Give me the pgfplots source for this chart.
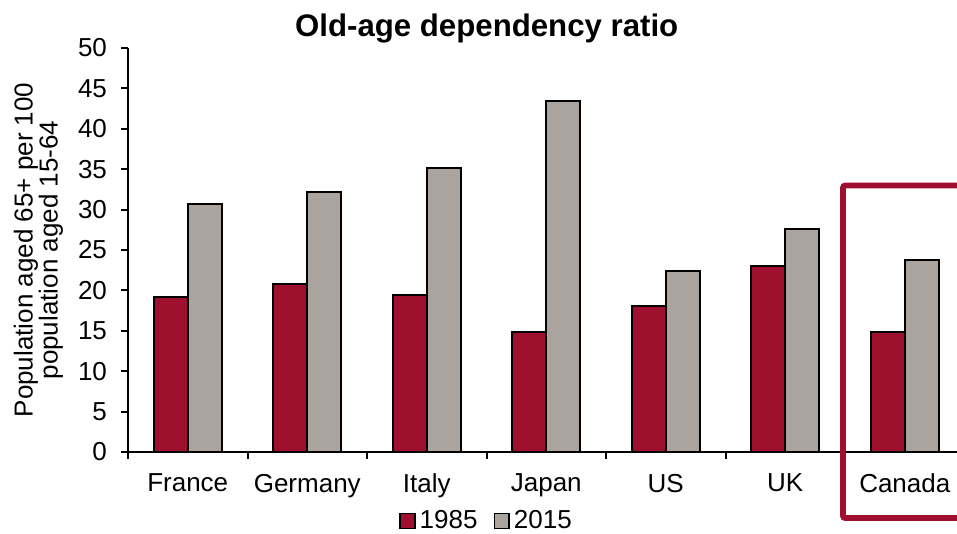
\documentclass[border=0pt]{standalone}
\usepackage{pgfplots}
\pgfplotsset{compat=1.18}
\usepackage{fontspec}
\setmainfont{Liberation Sans}
\definecolor{cred}{RGB}{158,16,46}
\definecolor{cgray}{RGB}{171,163,157}
\begin{document}
\begin{tikzpicture}
\begin{axis}[name=ax, scale only axis, width=414.5pt, height=202pt,
  xmin=-0.5, xmax=6.437, ymin=0, ymax=50,
  clip=false,
  axis x line*=bottom, axis y line*=left,
  axis line style={line width=1pt, -},
  ytick={0,5,...,50},
  xtick={0,...,6},
  xticklabels={France,Germany,Italy,Japan,US,UK,Canada},
  minor xtick={-0.5,0.5,...,5.5},
  tick align=outside,
  major tick length=3.5pt, minor tick length=3.5pt,
  major x tick style={draw=none},
  minor x tick style={black, line width=1pt},
  ytick style={black, line width=1pt},
  /pgf/number format/assume math mode=true,
  yticklabel style={font=\fontsize{13}{13}\selectfont, xshift=-3.5pt},
  xticklabel style={font=\fontsize{13}{13}\selectfont, yshift=-4pt},
  ylabel={Population aged 65+ per 100\\population aged 15-64},
  every axis y label/.style={at={(rel axis cs:-0.108,0.5)}, rotate=90, anchor=center,
     align=center, font=\fontsize{13}{12.5}\selectfont},
  legend style={at={(rel axis cs:0.4337,-0.171)}, anchor=center, draw=none,
     legend columns=2, font=\fontsize{13}{13}\selectfont,
     /tikz/every even column/.append style={column sep=6pt}},
  legend image code/.code={\draw[#1, line width=0.8pt] (0pt,-3.7pt) rectangle (7.4pt,3.7pt);},
]
\addplot[ybar, bar width=0.2845, bar shift=-0.14225, fill=cred, draw=black, line width=1pt]
 coordinates {(0,19.2) (1,20.8) (2,19.4) (3,14.9) (4,18.1) (5,23.0) (6,14.9)};
\addlegendentry{1985}
\addplot[ybar, bar width=0.2845, bar shift=0.14225, fill=cgray, draw=black, line width=1pt]
 coordinates {(0,30.7) (1,32.2) (2,35.1) (3,43.4) (4,22.4) (5,27.6) (6,23.8)};
\addlegendentry{2015}
\node[anchor=base, font=\fontsize{15.6}{15.6}\selectfont\bfseries] at (rel axis cs:0.4327,1.0297) {Old-age dependency ratio};
\draw[cred, line width=2.8pt, rounded corners=1pt] (axis cs:5.483,-8.17) rectangle (axis cs:7.5,32.98);
\end{axis}
\pgfresetboundingbox
\path[use as bounding box] ([xshift=-64pt,yshift=-41pt]ax.south west) rectangle ([yshift=24pt]ax.north east);
\end{tikzpicture}
\end{document}
